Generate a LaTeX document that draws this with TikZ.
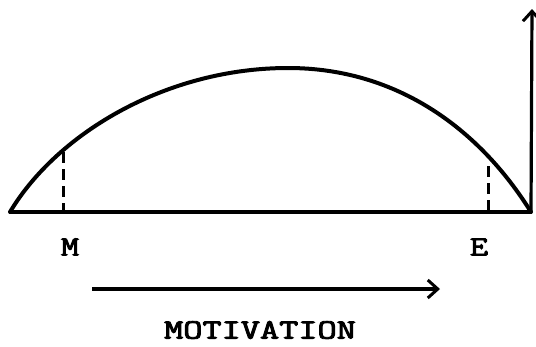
\documentclass[tikz,border=0pt]{standalone}
\usepackage{graphicx}
\usepackage{fontspec}
\newfontfamily\twfont[FakeBold=3]{Latin Modern Mono}
\usetikzlibrary{arrows.meta}
\begin{document}
\begin{tikzpicture}[x=1pt,y=-1pt,
  thickline/.style={line width=4pt,line cap=round,line join=round},
  dashline/.style={line width=3pt,dash pattern=on 11pt off 6pt},
  lbl/.style={font=\fontsize{28}{32}\selectfont\twfont,inner sep=0pt},
  arr/.style={line width=3.2pt,-{Straight Barb[length=10pt,width=18pt,line width=3pt]}}]
\useasboundingbox (0,0) rectangle (536,346);
\coordinate (L) at (10,212);
\coordinate (R) at (531,212);
\coordinate (P) at (288,68);
\coordinate (Mt) at (63,152);
\coordinate (Mb) at (63,212);
\coordinate (Et) at (488,166);
\coordinate (Eb) at (488,212);
\coordinate (Vt) at (532,9);
\coordinate (Hs) at (92,289);
\coordinate (He) at (440,289);
\draw[thickline] (L) .. controls (58,132) and (168,68) .. (P)
  .. controls (398,68) and (480,130) .. (R);
\draw[line width=3.6pt] (L) -- (R);
\draw[dashline] (Mt) -- (Mb);
\draw[dashline] (Et) -- (Eb);
\draw[arr] (R) -- (Vt);
\draw[arr] (Hs) -- (He);
\node[lbl] (M) at (70,247) {\scalebox{1.25}[1]{M}};
\node[lbl] (E) at (479,247) {\scalebox{1.25}[1]{E}};
\node[lbl] (mot) at (260,330) {\scalebox{1.33}[1]{MOTIVATION}};
\end{tikzpicture}
\end{document}
